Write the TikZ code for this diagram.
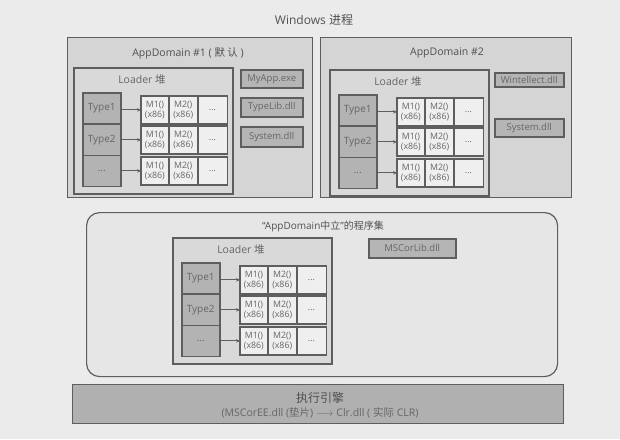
\documentclass[tikz,border=0pt]{standalone}
\usepackage{fontspec}
\setmainfont{Open Sans}
\newfontfamily\cjk{Noto Sans CJK SC}
\usetikzlibrary{arrows.meta}
\definecolor{bg}{HTML}{EBEBEB}
\definecolor{adfill}{HTML}{D5D5D5}
\definecolor{ldfill}{HTML}{D9D9D9}
\definecolor{tyfill}{HTML}{B3B3B3}
\definecolor{mfill}{HTML}{EFEFEF}
\definecolor{dllfill}{HTML}{B5B5B5}
\definecolor{nfill}{HTML}{E6E6E6}
\definecolor{eefill}{HTML}{B0B0B0}
\definecolor{bord}{HTML}{5E5E5E}
\definecolor{txtc}{HTML}{666666}
\definecolor{ttl}{HTML}{505050}
\tikzset{
  adbox/.style={draw=bord, line width=1.3pt, fill=adfill, anchor=north west, inner sep=0pt},
  loader/.style={draw=bord, line width=1.5pt, fill=ldfill, anchor=north west, inner sep=0pt, minimum width=159pt, minimum height=126pt},
  typebox/.style={draw=bord, line width=1.5pt, fill=tyfill, anchor=north west, inner sep=0pt, minimum width=38pt, minimum height=31.3pt, font=\fontsize{10}{11}\selectfont, text=txtc},
  mcell/.style={draw=bord, line width=0.8pt, fill=mfill, anchor=north west, inner sep=0pt, minimum height=27pt, align=center, font=\fontsize{8.8}{10.2}\selectfont, text=txtc},
  rowline/.style={draw=bord, line width=1.5pt},
  dll/.style={draw=bord, line width=1.5pt, fill=dllfill, anchor=north west, inner sep=0pt, font=\fontsize{9.5}{10}\selectfont, text=txtc},
  txt/.style={font=\fontsize{10.5}{12}\selectfont, text=txtc, inner sep=0pt},
  title/.style={font=\fontsize{10.5}{12}\selectfont, text=ttl, inner sep=0pt},
  arr/.style={draw=bord, line width=1pt, -{Stealth[length=4pt,width=3.5pt]}},
}
\newcommand\heap[3]{%
  \node[loader] (#1L) at (#2,#3) {};
  \node[txt] (#1Llab) at (#2+69,#3+13) {Loader {\cjk 堆}};
  \node[typebox] (#1T1) at (#2+9,#3+25) {Type1};
  \node[typebox] (#1T2) at (#2+9,#3+56.3) {Type2};
  \node[typebox] (#1T3) at (#2+9,#3+87.6) {...};
  \mrow{#1}{1}{#2}{#3+29}
  \mrow{#1}{2}{#2}{#3+59}
  \mrow{#1}{3}{#2}{#3+90}
}
\newcommand\mrow[4]{%
  \node[mcell, minimum width=27pt] (#1R#2a) at (#3+68,#4) {M1()\\(x86)};
  \node[mcell, minimum width=28pt] (#1R#2b) at (#1R#2a.north east) {M2()\\(x86)};
  \node[mcell, minimum width=29pt] (#1R#2c) at (#1R#2b.north east) {...};
  \draw[rowline] (#1R#2a.north west) rectangle (#1R#2c.south east);
  \draw[arr] (#1T#2.east |- #1R#2a.west) -- (#1R#2a.west);
}
\begin{document}
\begin{tikzpicture}[x=1pt,y=-1pt]
\path[fill=bg] (0,0) rectangle (620,439);
\useasboundingbox (0,0) rectangle (620,439);
\node[title, font=\fontsize{12}{13}\selectfont] (win) at (314,20) {Windows {\cjk 进程}};
% AppDomain 1
\node[adbox, minimum width=245pt, minimum height=160pt] (ad1) at (67,37) {};
\node[title] (ad1t) at (188,53) {AppDomain \#1 ( {\cjk 默\ 认} )};
\heap{a}{73}{67}
\node[dll, minimum width=62pt, minimum height=18pt] (myapp) at (240,69) {MyApp.exe};
\node[dll, minimum width=62pt, minimum height=19pt] (typelib) at (240,97) {TypeLib.dll};
\node[dll, minimum width=62pt, minimum height=20pt] (sys1) at (240,126) {System.dll};
% AppDomain 2
\node[adbox, minimum width=251pt, minimum height=160pt] (ad2) at (320,37) {};
\node[title] (ad2t) at (447,53) {AppDomain \#2};
\heap{b}{329}{69}
\node[dll, minimum width=69pt, minimum height=14pt] (wint) at (494,72) {Wintellect.dll};
\node[dll, minimum width=69pt, minimum height=18pt] (sys2) at (494,118) {System.dll};
% neutral
\node[draw=bord, line width=1.2pt, fill=nfill, rounded corners=13pt, anchor=north west, inner sep=0pt, minimum width=471pt, minimum height=164pt] (neu) at (86,212) {};
\node[title, font=\fontsize{10}{12}\selectfont] (neut) at (323,226) {“AppDomain{\cjk 中立}”{\cjk 的程序集}};
\heap{c}{172}{237}
\node[dll, minimum width=87pt, minimum height=19pt] (mscorlib) at (368,238) {MSCorLib.dll};
% execution engine
\node[draw=bord, line width=1.3pt, fill=eefill, anchor=north west, inner sep=0pt, minimum width=491pt, minimum height=39pt] (ee) at (72,384) {};
\node[title, font=\fontsize{12}{13}\selectfont] (eet) at (320,398) {\cjk 执行引擎};
\node[txt, font=\fontsize{10.5}{12}\selectfont] (ees) at (320,413) {(MSCorEE.dll ({\cjk 垫片}) $\longrightarrow$ Clr.dll ( {\cjk 实际} CLR)};
\end{tikzpicture}
\end{document}
